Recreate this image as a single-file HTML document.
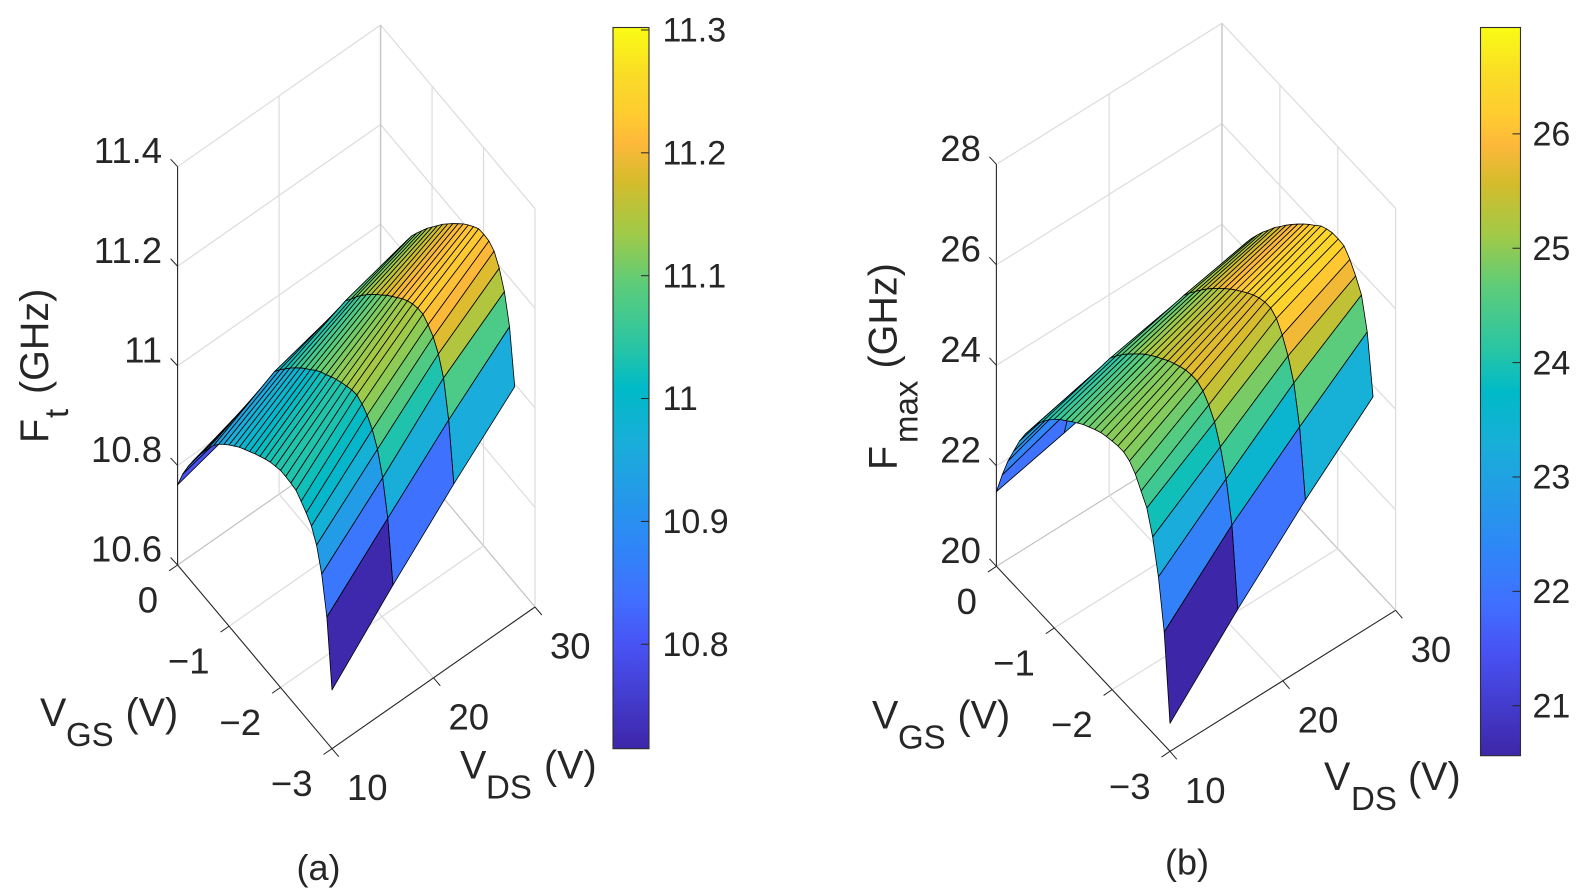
<!DOCTYPE html>
<html lang="en">
<head>
<meta charset="utf-8">
<title>Ft and Fmax surface plots</title>
<style>
html,body{margin:0;padding:0;background:#fff;}
svg{display:block;filter:blur(0.3px);}
text{font-family:"Liberation Sans",Arial,sans-serif;fill:#262626;}
</style>
</head>
<body>
<svg id="figure" xmlns="http://www.w3.org/2000/svg" width="1586" height="894" viewBox="0 0 1586 894">
  <rect x="0" y="0" width="1586" height="894" fill="#ffffff"/>
  <g id="panel-a"></g>
  <g id="panel-b"></g>

  <text transform="translate(48,443) rotate(-90)" font-size="39.5"><tspan x="0" y="0">F</tspan><tspan x="25" y="20" font-size="33">t</tspan><tspan x="49" y="0">(GHz)</tspan></text>
  <text font-size="39.5"><tspan x="40" y="726">V</tspan><tspan x="66" y="746" font-size="33">GS</tspan><tspan x="125.5" y="726">(V)</tspan></text>
  <text font-size="39.5"><tspan x="460" y="778.7">V</tspan><tspan x="486" y="798.7" font-size="33">DS</tspan><tspan x="544" y="778.7">(V)</tspan></text>
  <text x="296.5" y="880" font-size="36">(a)</text>

  <text transform="translate(896.7,470) rotate(-90)" font-size="39.5"><tspan x="0" y="0">F</tspan><tspan x="27" y="20.6" font-size="33">max</tspan><tspan x="101.5" y="0">(GHz)</tspan></text>
  <text font-size="39.5"><tspan x="872" y="728.7">V</tspan><tspan x="898" y="748.7" font-size="33">GS</tspan><tspan x="957.5" y="728.7">(V)</tspan></text>
  <text font-size="39.5"><tspan x="1324" y="790">V</tspan><tspan x="1351" y="810" font-size="33">DS</tspan><tspan x="1408" y="790">(V)</tspan></text>
  <text x="1165" y="874.5" font-size="36">(b)</text>
</svg>

<script>
// ---- shared sampling axes ----
const vdsValues = [10, 16, 22, 28];
const vgsValues = [-3,-2.9,-2.8,-2.7,-2.6,-2.5,-2.4,-2.3,-2.2,-2.1,-2,-1.9,-1.8,-1.7,-1.6,-1.5,-1.4,-1.3,-1.2,-1.1,-1,-0.9,-0.8,-0.7,-0.6,-0.5,-0.4,-0.3,-0.2,-0.1,0];

// ---- Ft surface (GHz), one row per VDS, one value per VGS ----
const ftVds10 = [10.718,10.852,10.926,10.972,10.998,11.012,11.023,11.033,11.035,11.036,11.036,11.032,11.028,11.022,11.015,11.008,11.000,10.992,10.984,10.974,10.964,10.953,10.941,10.926,10.908,10.888,10.868,10.846,10.822,10.795,10.761];
const ftVds16 = [10.843,10.965,11.034,11.079,11.106,11.123,11.133,11.139,11.137,11.132,11.127,11.121,11.114,11.106,11.099,11.090,11.079,11.069,11.058,11.046,11.033,11.019,11.005,10.989,10.963,10.937,10.911,10.885,10.859,10.828,10.796];
const ftVds22 = [10.961,11.077,11.149,11.185,11.207,11.219,11.228,11.228,11.224,11.218,11.210,11.200,11.190,11.180,11.168,11.157,11.145,11.132,11.118,11.103,11.086,11.071,11.047,11.023,10.999,10.975,10.951,10.927,10.903,10.872,10.835];
const ftVds28 = [11.071,11.179,11.237,11.272,11.294,11.302,11.303,11.302,11.294,11.285,11.275,11.263,11.251,11.238,11.225,11.210,11.195,11.180,11.163,11.146,11.128,11.106,11.082,11.058,11.033,11.005,10.975,10.945,10.915,10.885,10.857];

// ---- Fmax surface (GHz) ----
const fmaxVds10 = [20.557,22.251,23.224,23.897,24.350,24.567,24.782,24.918,24.975,24.971,24.947,24.915,24.872,24.808,24.736,24.663,24.569,24.474,24.370,24.271,24.153,24.016,23.863,23.692,23.469,23.246,22.985,22.663,22.340,21.940,21.485];
const fmaxVds16 = [21.984,23.538,24.332,24.846,25.220,25.437,25.592,25.668,25.666,25.642,25.588,25.526,25.459,25.369,25.288,25.194,25.095,24.979,24.856,24.732,24.595,24.448,24.285,24.05,23.82,23.59,23.36,23.13,22.85,22.40,21.81];
const fmaxVds22 = [23.317,24.647,25.401,25.815,26.109,26.316,26.402,26.398,26.356,26.293,26.209,26.117,26.024,25.920,25.805,25.688,25.562,25.431,25.288,25.134,24.983,24.810,24.58,24.35,24.12,23.89,23.66,23.43,23.15,22.70,22.15];
const fmaxVds28 = [24.531,25.696,26.310,26.565,26.770,26.917,26.933,26.930,26.888,26.824,26.714,26.609,26.496,26.372,26.241,26.104,25.954,25.813,25.640,25.477,25.296,25.103,24.890,24.66,24.43,24.20,23.97,23.74,23.51,23.28,23.05];

// ---- tick values and labels ----
const vdsTicks = [10, 20, 30];
const vdsTickLabels = ['10', '20', '30'];
const vgsTicks = [0, -1, -2, -3];
const vgsTickLabels = ['0', '\u22121', '\u22122', '\u22123'];
const ftTicks = [10.6, 10.8, 11, 11.2, 11.4];
const ftTickLabels = ['10.6', '10.8', '11', '11.2', '11.4'];
const fmaxTicks = [20, 22, 24, 26, 28];
const fmaxTickLabels = ['20', '22', '24', '26', '28'];
const ftBarTicks = [10.8, 10.9, 11, 11.1, 11.2, 11.3];
const ftBarLabels = ['10.8', '10.9', '11', '11.1', '11.2', '11.3'];
const fmaxBarTicks = [21, 22, 23, 24, 25, 26];
const fmaxBarLabels = ['21', '22', '23', '24', '25', '26'];

// ---- colormap anchors (fraction, r, g, b) ----
const parulaStops = [
  [0.000, 62, 38, 168],
  [0.143, 72, 82, 244],
  [0.210, 64, 112, 255],
  [0.286, 46, 135, 247],
  [0.429, 24, 175, 216],
  [0.500, 0, 186, 200],
  [0.557, 40, 197, 165],
  [0.643, 92, 204, 122],
  [0.714, 160, 202, 72],
  [0.786, 212, 188, 44],
  [0.840, 254, 184, 58],
  [0.880, 255, 204, 48],
  [0.930, 250, 218, 40],
  [1.000, 249, 251, 20]
];

function parula(t) {
  const v = Math.max(0, Math.min(1, t));
  for (let i = 1; i < parulaStops.length; i++) {
    const a = parulaStops[i - 1], b = parulaStops[i];
    if (v <= b[0]) {
      const f = (v - a[0]) / (b[0] - a[0]);
      return 'rgb(' + Math.round(a[1] + (b[1] - a[1]) * f) + ',' + Math.round(a[2] + (b[2] - a[2]) * f) + ',' + Math.round(a[3] + (b[3] - a[3]) * f) + ')';
    }
  }
  return 'rgb(249,251,20)';
}

const NS = 'http://www.w3.org/2000/svg';

function drawLine(parent, x1, y1, x2, y2, color, width) {
  const l = document.createElementNS(NS, 'line');
  l.setAttribute('x1', x1.toFixed(2));
  l.setAttribute('y1', y1.toFixed(2));
  l.setAttribute('x2', x2.toFixed(2));
  l.setAttribute('y2', y2.toFixed(2));
  l.setAttribute('stroke', color);
  l.setAttribute('stroke-width', width);
  parent.appendChild(l);
  return l;
}

function drawText(parent, x, y, str, size, anchor) {
  const t = document.createElementNS(NS, 'text');
  t.setAttribute('x', x.toFixed(2));
  t.setAttribute('y', y.toFixed(2));
  t.setAttribute('font-size', size);
  t.setAttribute('text-anchor', anchor);
  t.textContent = str;
  parent.appendChild(t);
  return t;
}

function drawPanel(parent, box, surface, zTicks, zLabels, barTicks, barLabels, gradientId) {
  // axis functions: data -> screen
  const sx = (vds, vgs) => box.frontX + (vds - 10) * box.vdsDx - (vgs + 3) * box.vgsDx;
  const sy = (vds, vgs, z) => box.frontY - (vds - 10) * box.vdsDy - (vgs + 3) * box.vgsDy - (z - box.zMin) * box.zScale;
  const barY = (v) => box.barBottom - (v - box.cMin) / (box.cMax - box.cMin) * (box.barBottom - box.barTop);
  const frac = (v) => (v - box.cMin) / (box.cMax - box.cMin);

  const GRID = '#dcdcdc', EDGE = '#c2c2c2', AXIS = '#262626';

  // back-wall and floor grid
  zTicks.forEach(function (z) {
    const a = drawLine(parent, sx(10, 0), sy(10, 0, z), sx(30, 0), sy(30, 0, z), z === box.zMin ? EDGE : GRID, 1.2);
    
    
    const b = drawLine(parent, sx(30, 0), sy(30, 0, z), sx(30, -3), sy(30, -3, z), z === box.zMin ? EDGE : GRID, 1.2);
    
    
  });
  vdsTicks.slice(1).forEach(function (v) {
    const a = drawLine(parent, sx(v, 0), sy(v, 0, box.zMin), sx(v, 0), sy(v, 0, box.zMax), v === 30 ? '#c8c8c8' : GRID, v === 30 ? 1.5 : 1.2);
    
    
  });
  vdsTicks.slice(1, 2).forEach(function (v) {
    const a = drawLine(parent, sx(v, -3), sy(v, -3, box.zMin), sx(v, 0), sy(v, 0, box.zMin), GRID, 1.2);
    
    
  });
  vgsTicks.slice(1).forEach(function (g) {
    const a = drawLine(parent, sx(30, g), sy(30, g, box.zMin), sx(30, g), sy(30, g, box.zMax), GRID, 1.2);
    
    
  });
  vgsTicks.slice(1, 3).forEach(function (g) {
    const a = drawLine(parent, sx(10, g), sy(10, g, box.zMin), sx(30, g), sy(30, g, box.zMin), GRID, 1.2);
    
    
  });

  // axis rulers
  const zAxis = drawLine(parent, sx(10, 0), sy(10, 0, box.zMin), sx(10, 0), sy(10, 0, box.zMax), AXIS, 1.1);
  
  
  const gAxis = drawLine(parent, sx(10, 0), sy(10, 0, box.zMin), sx(10, -3), sy(10, -3, box.zMin), AXIS, 1.1);
  
  
  const dAxis = drawLine(parent, sx(10, -3), sy(10, -3, box.zMin), sx(30, -3), sy(30, -3, box.zMin), AXIS, 1.1);
  
  

  // ticks and tick labels
  zTicks.forEach(function (z, i) {
    const x = sx(10, 0), y = sy(10, 0, z);
    const m = drawLine(parent, x, y, x - 7, y - 7.5, AXIS, 1);
    
    
    const t = drawText(parent, x - 15.5, y - 3.5, zLabels[i], 36.5, 'end');
    
    
  });
  vgsTicks.forEach(function (g, i) {
    const x = sx(10, g), y = sy(10, g, box.zMin);
    const m = drawLine(parent, x, y, x - 8.5, y + 5.8, AXIS, 1);
    
    
    const t = drawText(parent, x - 19.5, y + 47.5, vgsTickLabels[i], 36.5, 'end');
    
    
  });
  vdsTicks.forEach(function (v, i) {
    const x = sx(v, -3), y = sy(v, -3, box.zMin);
    const m = drawLine(parent, x, y, x + 6.8, y + 8, AXIS, 1);
    
    
    const t = drawText(parent, x + 15, y + 51.5, vdsTickLabels[i], 36.5, 'start');
    
    
  });

  // surface, painted far to near
  const faces = document.createElementNS(NS, 'g');
  
  
  parent.appendChild(faces);
  for (let i = vdsValues.length - 2; i >= 0; i--) {
    for (let k = vgsValues.length - 2; k >= 0; k--) {
      const corners = [[i, k], [i + 1, k], [i + 1, k + 1], [i, k + 1]];
      const pts = corners.map(function (c) {
        const vds = vdsValues[c[0]], vgs = vgsValues[c[1]], z = surface[c[0]][c[1]];
        return sx(vds, vgs).toFixed(2) + ',' + sy(vds, vgs, z).toFixed(2);
      }).join(' ');
      const p = document.createElementNS(NS, 'polygon');
      p.setAttribute('points', pts);
      p.setAttribute('fill', parula(frac(surface[i][k])));
      p.setAttribute('stroke', '#000');
      p.setAttribute('stroke-width', '0.8');
      p.setAttribute('stroke-linejoin', 'round');
      
      
      faces.appendChild(p);
    }
  }

  // colorbar
  const defs = document.createElementNS(NS, 'defs');
  const grad = document.createElementNS(NS, 'linearGradient');
  grad.setAttribute('id', gradientId);
  grad.setAttribute('x1', '0');
  grad.setAttribute('y1', '1');
  grad.setAttribute('x2', '0');
  grad.setAttribute('y2', '0');
  parulaStops.forEach(function (s) {
    const st = document.createElementNS(NS, 'stop');
    st.setAttribute('offset', s[0]);
    st.setAttribute('stop-color', 'rgb(' + s[1] + ',' + s[2] + ',' + s[3] + ')');
    grad.appendChild(st);
  });
  defs.appendChild(grad);
  parent.appendChild(defs);
  const bar = document.createElementNS(NS, 'rect');
  bar.setAttribute('x', box.barLeft);
  bar.setAttribute('y', box.barTop);
  bar.setAttribute('width', box.barRight - box.barLeft);
  bar.setAttribute('height', box.barBottom - box.barTop);
  bar.setAttribute('fill', 'url(#' + gradientId + ')');
  bar.setAttribute('stroke', '#303030');
  bar.setAttribute('stroke-width', '1.1');
  
  
  parent.appendChild(bar);
  barTicks.forEach(function (v, i) {
    const y = barY(v);
    const m = drawLine(parent, box.barRight - 8, y, box.barRight, y, AXIS, 1);
    
    
    const t = drawText(parent, box.barRight + box.barLabelGap, y + 11.7, barLabels[i], 34, 'start');
    
    
  });
}

drawPanel(
  document.getElementById('panel-a'),
  { frontX: 332, frontY: 748.7, vdsDx: 10.15, vdsDy: 7.085, vgsDx: 51.47, vgsDy: 61.23,
    zMin: 10.6, zMax: 11.4, zScale: 497.9,
    cMin: 10.715, cMax: 11.302, barLeft: 613, barRight: 649, barTop: 27.5, barBottom: 748.7, barLabelGap: 13.5 },
  [ftVds10, ftVds16, ftVds22, ftVds28],
  ftTicks, ftTickLabels, ftBarTicks, ftBarLabels, 'parula-a'
);

drawPanel(
  document.getElementById('panel-b'),
  { frontX: 1170, frontY: 751.3, vdsDx: 11.28, vdsDy: 7.05, vgsDx: 57.87, vgsDy: 61.67,
    zMin: 20, zMax: 28, zScale: 50.25,
    cMin: 20.563, cMax: 26.93, barLeft: 1480.5, barRight: 1520.5, barTop: 27.5, barBottom: 755.7, barLabelGap: 12 },
  [fmaxVds10, fmaxVds16, fmaxVds22, fmaxVds28],
  fmaxTicks, fmaxTickLabels, fmaxBarTicks, fmaxBarLabels, 'parula-b'
);
</script>
</body>
</html>
